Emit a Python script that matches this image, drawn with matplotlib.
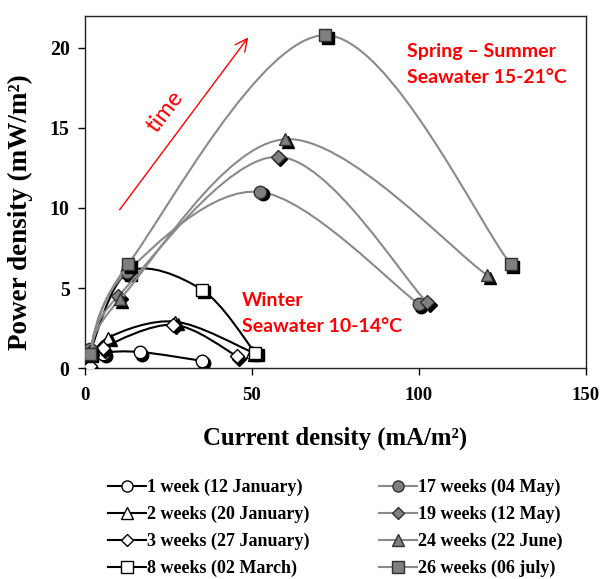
import numpy as np
import matplotlib

matplotlib.use("Agg")
import matplotlib.pyplot as plt
from matplotlib.path import Path
from matplotlib.patches import PathPatch
from matplotlib.lines import Line2D
from matplotlib.transforms import offset_copy

# --- data (current density mA/m2, power density mW/m2) ---
labels = ["1 week (12 January)", "2 weeks (20 January)", "3 weeks (27 January)",
          "8 weeks (02 March)", "17 weeks (04 May)", "19 weeks (12 May)",
          "24 weeks (22 June)", "26 weeks (06 july)"]
markers = ["o", "^", "D", "s", "o", "D", "^", "s"]

wk1_j = [1.0, 5.5, 16.5, 35.0]
wk1_p = [0.1, 0.9, 1.0, 0.45]
wk2_j = [1.5, 7.0, 27.0, 50.0]
wk2_p = [0.3, 1.9, 2.9, 1.0]
wk3_j = [1.5, 5.4, 26.5, 45.5]
wk3_p = [0.1, 1.25, 2.7, 0.75]
wk8_j = [1.5, 13.0, 35.0, 51.0]
wk8_p = [1.0, 6.0, 4.9, 0.95]
wk17_j = [1.5, 12.5, 52.5, 100.0]
wk17_p = [1.2, 6.0, 11.0, 4.0]
wk19_j = [1.5, 10.0, 57.8, 102.5]
wk19_p = [1.0, 4.5, 13.2, 4.1]
wk24_j = [1.5, 10.5, 60.0, 120.5]
wk24_p = [1.0, 4.3, 14.3, 5.8]
wk26_j = [1.5, 13.0, 72.0, 127.5]
wk26_p = [0.9, 6.5, 20.8, 6.5]

currents = [wk1_j, wk2_j, wk3_j, wk8_j, wk17_j, wk19_j, wk24_j, wk26_j]
powers = [wk1_p, wk2_p, wk3_p, wk8_p, wk17_p, wk19_p, wk24_p, wk26_p]
winter = [True, True, True, True, False, False, False, False]

GRAY_LINE = "#8a8a8a"
GRAY_FILL = "#7f7f7f"
RED = "#ff0000"

plt.rcParams["font.family"] = ["Liberation Serif", "DejaVu Serif"]
plt.rcParams["font.weight"] = "bold"
plt.rcParams["axes.labelweight"] = "bold"


def smooth_path(x, y):
    """Excel-like smoothed line as cubic Bezier segments through the points."""
    pts = np.column_stack([x, y]).astype(float)
    n = len(pts)
    verts, codes = [pts[0]], [Path.MOVETO]
    for i in range(n - 1):
        p0 = pts[max(i - 1, 0)]
        p1, p2 = pts[i], pts[i + 1]
        p3 = pts[min(i + 2, n - 1)]
        verts += [p1 + (p2 - p0) / 6, p2 - (p3 - p1) / 6, p2]
        codes += [Path.CURVE4] * 3
    return Path(verts, codes)


fig = plt.figure(figsize=(6.02, 5.79), dpi=100)
ax = fig.add_axes([0.141, 0.3644, 0.832, 0.608])
shadow = offset_copy(ax.transData, fig=fig, x=2.5, y=-2.5, units="dots")

handles = []
z = 2
for lab, m, xs, ys, w in zip(labels, markers, currents, powers, winter):
    lc = "black" if w else GRAY_LINE
    fc = "white" if w else GRAY_FILL
    ec = "black" if w else "#303030"
    ms = 7.5 if m == "D" else 9
    ax.add_patch(PathPatch(smooth_path(xs, ys), fc="none", ec=lc, lw=1.5, zorder=z))
    ax.plot(xs, ys, ls="none", marker=m, ms=ms, mfc="black", mec="black",
            transform=shadow, zorder=z + 0.1)
    ax.plot(xs, ys, ls="none", marker=m, ms=ms, mfc=fc, mec=ec, mew=1.0,
            zorder=z + 0.2)
    handles.append(Line2D([], [], color=lc, lw=1.5, marker=m,
                          ms=6.5 if m == "D" else 8, mfc=fc, mec=ec, mew=1.0))
    z += 1

ax.set_xlim(0, 150)
ax.set_ylim(0, 22)
ax.set_xticks([0, 50, 100, 150])
ax.set_yticks([0, 5, 10, 15, 20])
ax.tick_params(direction="out", length=5, width=1)
ax.tick_params(axis="x", pad=9, labelsize=13.5)
ax.tick_params(axis="y", pad=6, labelsize=14.3)
for s in ax.spines.values():
    s.set_linewidth(1.0)
    s.set_color("#222222")

ax.set_xlabel("Current density (mA/m²)", fontsize=17.8, fontweight="bold")
ax.set_ylabel("Power density (mW/m²)", fontsize=19.5, fontweight="bold")
ax.xaxis.set_label_coords(0.5, -0.165)
ax.yaxis.set_label_coords(-0.104, 0.443)

# time arrow and annotations
ax.annotate("", xy=(49.4, 20.8), xytext=(9.9, 9.75),
            arrowprops=dict(arrowstyle="->", color=RED, lw=1.0,
                            mutation_scale=22))
ax.text(24, 16.0, "time", color=RED, fontsize=17, fontfamily="Lato",
        fontweight="normal", rotation=53, ha="center", va="center")
ax.text(96.5, 20.3, "Spring – Summer\nSeawater 15-21°C", color=RED,
        fontsize=14, fontfamily="Lato", fontweight="bold", ha="left",
        va="top", linespacing=1.62)
ax.text(47, 4.75, "Winter\nSeawater 10-14°C", color=RED, fontsize=14,
        fontfamily="Lato", fontweight="bold", ha="left", va="top",
        linespacing=1.62)

fig.legend(handles, labels, ncol=2, loc="upper left",
           bbox_to_anchor=(0.179, 0.173), frameon=False,
           prop=dict(size=13, weight="bold"),
           handlelength=2.1, handletextpad=0.1, columnspacing=3.8,
           labelspacing=0.54, borderaxespad=0, borderpad=0)

fig.savefig("out.png", dpi=100)
